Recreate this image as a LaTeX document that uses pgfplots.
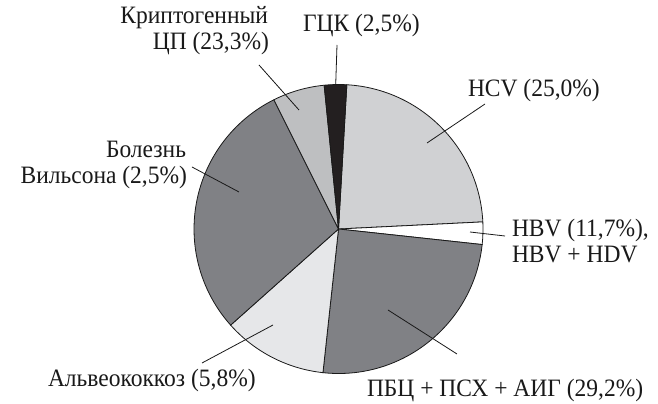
\documentclass[border=0pt]{standalone}
\usepackage{pgfplots}
\pgfplotsset{compat=1.18}
\usepackage{fontspec}
\setmainfont{Liberation Serif}[FakeStretch=0.94]
\definecolor{cHCV}{HTML}{D0D1D3}
\definecolor{cHBV}{HTML}{FFFFFF}
\definecolor{cPBC}{HTML}{808185}
\definecolor{cAlv}{HTML}{E6E7E9}
\definecolor{cWil}{HTML}{808185}
\definecolor{cCry}{HTML}{BEBFC1}
\definecolor{cGCK}{HTML}{231F20}
\begin{document}
\begin{tikzpicture}
\path[use as bounding box] (0bp,0bp) rectangle (658bp,404bp);
% slice shares (%): HCV 23.3, HBV 2.5, PBC 25.0, Alv 11.7, Wil 29.2, Cry 5.8, GCK 2.5
\begin{axis}[
  at={(0bp,0bp)}, anchor=south west,
  scale only axis, width=658bp, height=404bp,
  xmin=-338.5, xmax=319.5, ymin=-175, ymax=229,
  hide axis, clip=false,
  every axis plot/.append style={draw=black!90, line width=0.8pt, mark=none, data cs=polar},
]
\addplot[fill=cHCV] coordinates {(0,0) (86.70,144.5)} arc[start angle=86.70, end angle=2.82, radius=144.5bp] -- cycle;
\addplot[fill=cHBV] coordinates {(0,0) (2.82,144.5)} arc[start angle=2.82, end angle=-6.18, radius=144.5bp] -- cycle;
\addplot[fill=cPBC] coordinates {(0,0) (-6.18,144.5)} arc[start angle=-6.18, end angle=-96.18, radius=144.5bp] -- cycle;
\addplot[fill=cAlv] coordinates {(0,0) (-96.18,144.5)} arc[start angle=-96.18, end angle=-138.30, radius=144.5bp] -- cycle;
\addplot[fill=cWil] coordinates {(0,0) (-138.30,144.5)} arc[start angle=-138.30, end angle=-243.42, radius=144.5bp] -- cycle;
\addplot[fill=cCry] coordinates {(0,0) (-243.42,144.5)} arc[start angle=-243.42, end angle=-264.30, radius=144.5bp] -- cycle;
\addplot[fill=cGCK] coordinates {(0,0) (-264.30,144.5)} arc[start angle=-264.30, end angle=-273.30, radius=144.5bp] -- cycle;
\end{axis}
\begin{scope}[x=1bp, y=-1bp, shift={(0bp,404bp)},
  every node/.style={inner sep=0pt, outer sep=0pt, font=\fontsize{25bp}{28bp}\selectfont, text=black!90}]
\draw[line width=0.8pt, black!90] (337,45) -- (335.7,85);
\draw[line width=0.8pt, black!90] (485,104) -- (427,143);
\draw[line width=0.8pt, black!90] (505,236) -- (470,232);
\draw[line width=0.8pt, black!90] (457,354) -- (388,310);
\draw[line width=0.8pt, black!90] (202,363) -- (273,325);
\draw[line width=0.8pt, black!90] (192,167) -- (239,192);
\draw[line width=0.8pt, black!90] (259,65) -- (299,110);
\node[anchor=base east] at (268,24) {Криптогенный};
\node[anchor=base east] at (269,50) {ЦП (23,3\%)};
\node[anchor=base west] at (303,32) {ГЦК (2,5\%)};
\node[anchor=base west] at (468,97) {HCV (25,0\%)};
\node[anchor=base west] at (512,237) {HBV (11,7\%),};
\node[anchor=base west] at (512,263) {HBV + HDV};
\node[anchor=base east] at (186,158) {Болезнь};
\node[anchor=base east] at (187,184) {Вильсона (2,5\%)};
\node[anchor=base west] at (48,387) {Альвеококкоз (5,8\%)};
\node[anchor=base west] at (367,397) {ПБЦ + ПСХ + АИГ (29,2\%)};
\end{scope}
\end{tikzpicture}
\end{document}
